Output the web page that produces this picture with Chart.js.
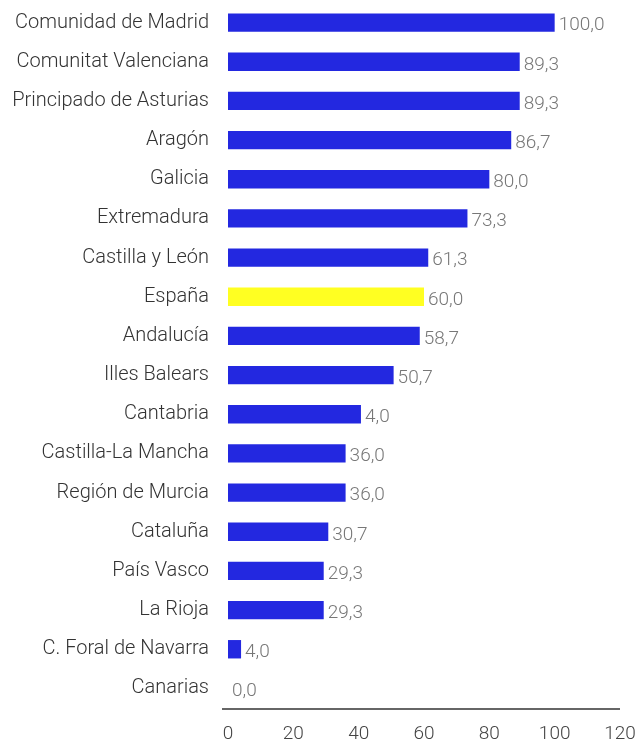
<!DOCTYPE html>
<html>
<head>
<meta charset="utf-8">
<script src="https://cdn.jsdelivr.net/npm/chart.js@4"></script>
<style>
  html, body { margin: 0; padding: 0; background: #fff; }
  #wrap { width: 638px; height: 741px; }
</style>
</head>
<body>
<div id="wrap"><canvas id="chart"></canvas></div>
<script>
const regions = [
  "Comunidad de Madrid", "Comunitat Valenciana", "Principado de Asturias", "Aragón",
  "Galicia", "Extremadura", "Castilla y León", "España", "Andalucía", "Illes Balears",
  "Cantabria", "Castilla-La Mancha", "Región de Murcia", "Cataluña", "País Vasco",
  "La Rioja", "C. Foral de Navarra", "Canarias"
];
const values = [100.0, 89.3, 89.3, 86.7, 80.0, 73.3, 61.3, 60.0, 58.7, 50.7,
  40.7, 36.0, 36.0, 30.7, 29.3, 29.3, 4.0, 0.0];
// labels as printed on the reference (Cantabria shows "4,0")
const valueLabels = ["100,0", "89,3", "89,3", "86,7", "80,0", "73,3", "61,3", "60,0", "58,7",
  "50,7", "4,0", "36,0", "36,0", "30,7", "29,3", "29,3", "4,0", "0,0"];
const xTicks = [0, 20, 40, 60, 80, 100, 120];

const barColors = regions.map(r => r === "España" ? "#ffff22" : "#2328e0");

const valueLabelPlugin = {
  id: "valueLabels",
  afterDatasetsDraw(chart) {
    const ctx = chart.ctx;
    const meta = chart.getDatasetMeta(0);
    const area = chart.chartArea;
    ctx.save();
    // x axis line, sticks out a little to the left of 0
    ctx.strokeStyle = "#333";
    ctx.lineWidth = 1.5;
    ctx.beginPath();
    ctx.moveTo(area.left - 6, area.bottom + 1);
    ctx.lineTo(area.right, area.bottom + 1);
    ctx.stroke();

    ctx.font = "300 19px Roboto";
    ctx.fillStyle = "#777";
    ctx.textAlign = "left";
    ctx.textBaseline = "middle";
    meta.data.forEach((bar, i) => {
      ctx.fillText(valueLabels[i], bar.x + 4, bar.y + 3);
    });
    ctx.restore();
  }
};

new Chart(document.getElementById("chart"), {
  type: "bar",
  data: {
    labels: regions,
    datasets: [{
      data: values,
      backgroundColor: barColors,
      barPercentage: 0.47,
      categoryPercentage: 1
    }]
  },
  options: {
    indexAxis: "y",
    responsive: true,
    maintainAspectRatio: false,
    animation: false,
    layout: { padding: { top: 3, right: 18, left: 0, bottom: 0 } },
    plugins: {
      legend: { display: false },
      tooltip: { enabled: false }
    },
    scales: {
      x: {
        min: 0,
        max: 120,
        afterBuildTicks(scale) {
          scale.ticks = xTicks.map(v => ({ value: v }));
        },
        afterFit(scale) {
          scale.height = 33;
          scale.paddingLeft = 0;
          scale.paddingRight = 0;
        },
        grid: { display: false, drawTicks: false },
        border: { display: false },
        ticks: {
          padding: 15,
          color: "#444",
          font: { family: "Roboto", size: 19, weight: 300 }
        }
      },
      y: {
        afterFit(scale) {
          scale.width = 228;
          scale.paddingTop = 0;
          scale.paddingBottom = 0;
        },
        grid: { display: false, drawTicks: false },
        border: { display: false },
        ticks: {
          padding: 19,
          color: "#333",
          font: { family: "Roboto", size: 20, weight: 300 }
        }
      }
    }
  },
  plugins: [valueLabelPlugin]
});
</script>
</body>
</html>
